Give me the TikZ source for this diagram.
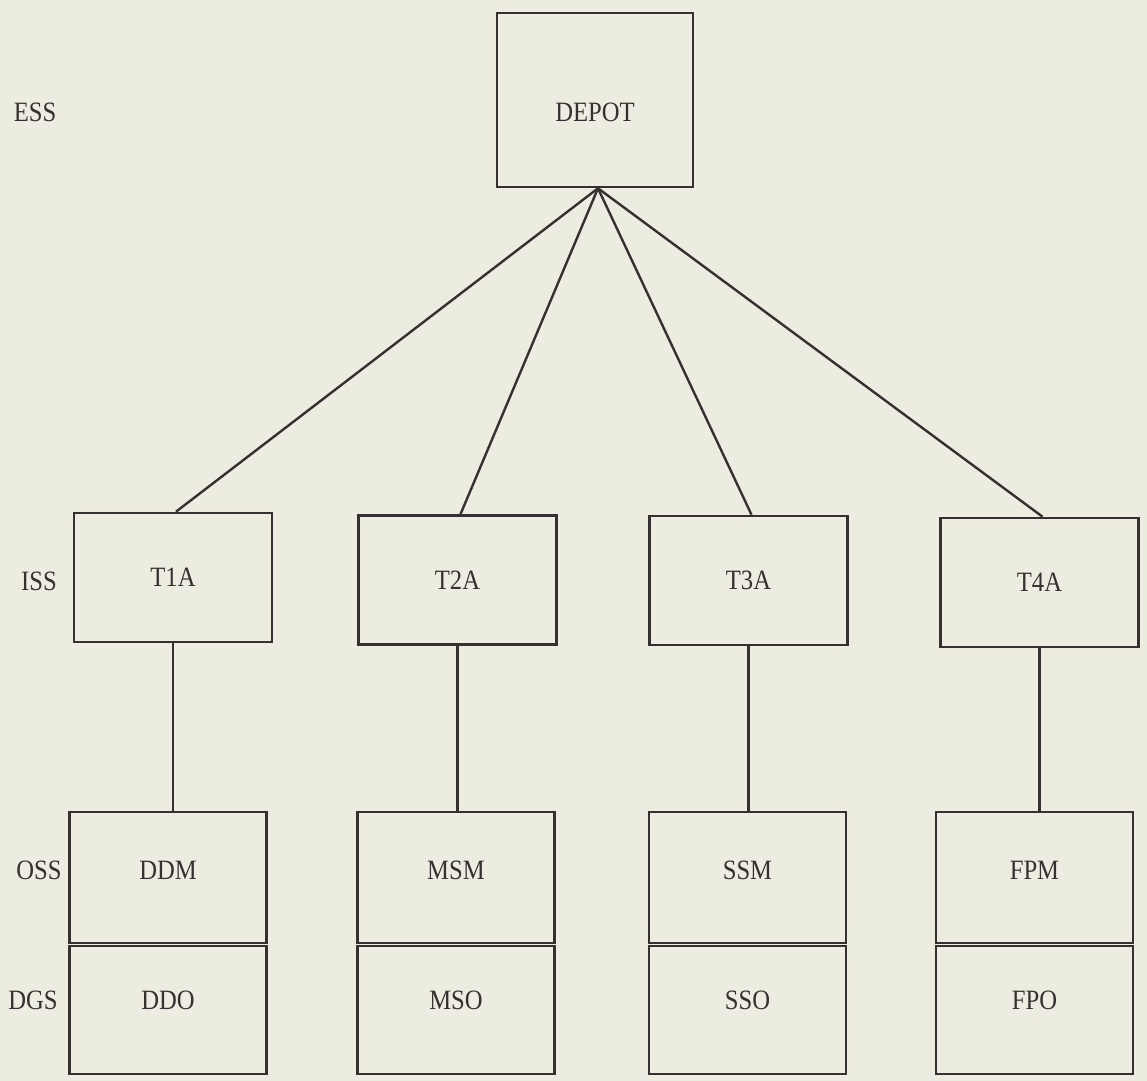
\documentclass[tikz,border=0pt]{standalone}
\usepackage{fontspec}
\setmainfont{Liberation Serif}[FakeStretch=0.88]
\definecolor{paper}{RGB}{237,236,225}
\definecolor{ink}{RGB}{55,48,48}
\begin{document}
\begin{tikzpicture}[x=0.5pt,y=-0.5pt,
  txt/.style={text=ink,font=\fontsize{14}{16}\selectfont},
  box/.style={draw=ink,line width=1.3pt,inner sep=0pt,txt},
  tbox/.style={box,minimum width=99pt,minimum height=64.5pt},
  obox/.style={box,minimum width=98.5pt,minimum height=65.5pt},
  gbox/.style={box,minimum width=98.5pt,minimum height=64pt},
  link/.style={draw=ink,line width=1.2pt},
  lvl/.style={txt,inner sep=0pt}]
% page
\fill[paper] (0,0) rectangle (1147,1081);
\useasboundingbox (0,0) rectangle (1147,1081);

% level labels
\node[lvl] (ess) at (35,112) {ESS};
\node[lvl] (iss) at (39,581) {ISS};
\node[lvl] (oss) at (39,870) {OSS};
\node[lvl] (dgs) at (33,1000) {DGS};

% top level
\node[box,minimum width=98pt,minimum height=87pt,
      label={[txt,yshift=-6pt]center:DEPOT}] (depot) at (595,100) {};

% intermediate level
\node[tbox] (t1a) at (173,577.5) {T1A};
\node[tbox] (t2a) at (457.5,580) {T2A};
\node[tbox] (t3a) at (748.5,580.5) {T3A};
\node[tbox] (t4a) at (1039.5,582.5) {T4A};

% organizational level
\node[obox,label={[txt,yshift=3.5pt]center:DDM}] (ddm) at (168,877.5) {};
\node[obox,label={[txt,yshift=3.5pt]center:MSM}] (msm) at (456,877.5) {};
\node[obox,label={[txt,yshift=3.5pt]center:SSM}] (ssm) at (747.5,877.5) {};
\node[obox,label={[txt,yshift=3.5pt]center:FPM}] (fpm) at (1034.5,877.5) {};

% lowest level
\node[gbox,label={[txt,yshift=5pt]center:DDO}] (ddo) at (168,1010) {};
\node[gbox,label={[txt,yshift=5pt]center:MSO}] (mso) at (456,1010) {};
\node[gbox,label={[txt,yshift=5pt]center:SSO}] (sso) at (747.5,1010) {};
\node[gbox,label={[txt,yshift=5pt]center:FPO}] (fpo) at (1034.5,1010) {};

% depot to intermediate sites
\coordinate (hub) at ([xshift=1.5pt]depot.south);
\foreach \t in {t1a,t2a,t3a,t4a}
  \draw[link] (hub) -- ([xshift=1.5pt]\t.north);

% intermediate to organizational sites
\draw[link] (t1a.south) -- (t1a.south |- ddm.north);
\draw[link] (t2a.south) -- (t2a.south |- msm.north);
\draw[link] (t3a.south) -- (t3a.south |- ssm.north);
\draw[link] (t4a.south) -- (t4a.south |- fpm.north);
\end{tikzpicture}
\end{document}
